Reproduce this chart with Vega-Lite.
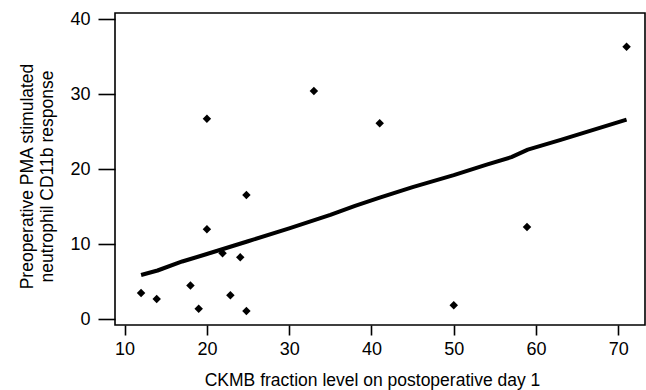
{
  "$schema": "https://vega.github.io/schema/vega-lite/v6.json",
  "width": 530,
  "height": 312,
  "autosize": {"type": "none"},
  "padding": {"left": 115, "top": 13, "right": 1, "bottom": 65},
  "background": "white",
  "config": {
    "view": {"stroke": "black", "strokeWidth": 1.6},
    "font": "Liberation Sans",
    "axis": {
      "domain": false,
      "grid": false,
      "tickColor": "black",
      "tickWidth": 1.6,
      "labelColor": "black",
      "labelFont": "Liberation Sans",
      "titleFont": "Liberation Sans",
      "titleFontWeight": "normal",
      "titleColor": "black"
    }
  },
  "datasets": {
    "pts": [
      {"x": 12, "y": 3.5},
      {"x": 13.9, "y": 2.7},
      {"x": 18, "y": 4.5},
      {"x": 19, "y": 1.4},
      {"x": 20, "y": 12.0},
      {"x": 20, "y": 26.7},
      {"x": 21.9, "y": 8.8},
      {"x": 22.85, "y": 3.2},
      {"x": 24.05, "y": 8.25},
      {"x": 24.8, "y": 16.55},
      {"x": 24.8, "y": 1.1},
      {"x": 33, "y": 30.4},
      {"x": 41, "y": 26.1},
      {"x": 50, "y": 1.86},
      {"x": 58.9, "y": 12.3},
      {"x": 71, "y": 36.3}
    ],
    "fit": [
      {"x": 12, "y": 5.9},
      {"x": 14, "y": 6.5},
      {"x": 17, "y": 7.7},
      {"x": 20, "y": 8.7},
      {"x": 25, "y": 10.4},
      {"x": 30, "y": 12.1},
      {"x": 35, "y": 13.9},
      {"x": 38, "y": 15.1},
      {"x": 41, "y": 16.2},
      {"x": 45, "y": 17.6},
      {"x": 50, "y": 19.2},
      {"x": 54, "y": 20.6},
      {"x": 57, "y": 21.6},
      {"x": 59, "y": 22.6},
      {"x": 63, "y": 23.9},
      {"x": 71, "y": 26.6}
    ]
  },
  "layer": [
    {
      "data": {"name": "fit"},
      "mark": {"type": "line", "color": "black", "strokeWidth": 4, "strokeJoin": "round"},
      "encoding": {
        "x": {
          "field": "x", "type": "quantitative",
          "scale": {"domain": [8.83, 73.24], "nice": false, "zero": false},
          "axis": {
            "values": [10, 20, 30, 40, 50, 60, 70],
            "tickSize": 10,
            "labelPadding": 5,
            "labelFontSize": 18,
            "titleFontSize": 17.5,
            "title": "CKMB fraction level on postoperative day 1",
            "titleX": 257,
            "titleY": 60,
            "titleAnchor": null,
            "titleAlign": "center",
            "titleBaseline": "alphabetic"
          }
        },
        "y": {
          "field": "y", "type": "quantitative",
          "scale": {"domain": [-0.76, 40.8], "nice": false, "zero": false},
          "axis": {
            "values": [0, 10, 20, 30, 40],
            "tickSize": 17,
            "labelPadding": 8,
            "labelFontSize": 18,
            "titleFontSize": 17.5,
            "title": ["Preoperative PMA stimulated", "neutrophil CD11b response"],
            "titleAngle": -90,
            "titleX": -83,
            "titleY": 163,
            "titleAlign": "center",
            "titleBaseline": "alphabetic",
            "titleLineHeight": 20
          }
        }
      }
    },
    {
      "data": {"name": "pts"},
      "mark": {"type": "point", "shape": "diamond", "filled": true, "color": "black", "opacity": 1, "size": 72},
      "encoding": {
        "x": {"field": "x", "type": "quantitative"},
        "y": {"field": "y", "type": "quantitative"}
      }
    }
  ]
}
